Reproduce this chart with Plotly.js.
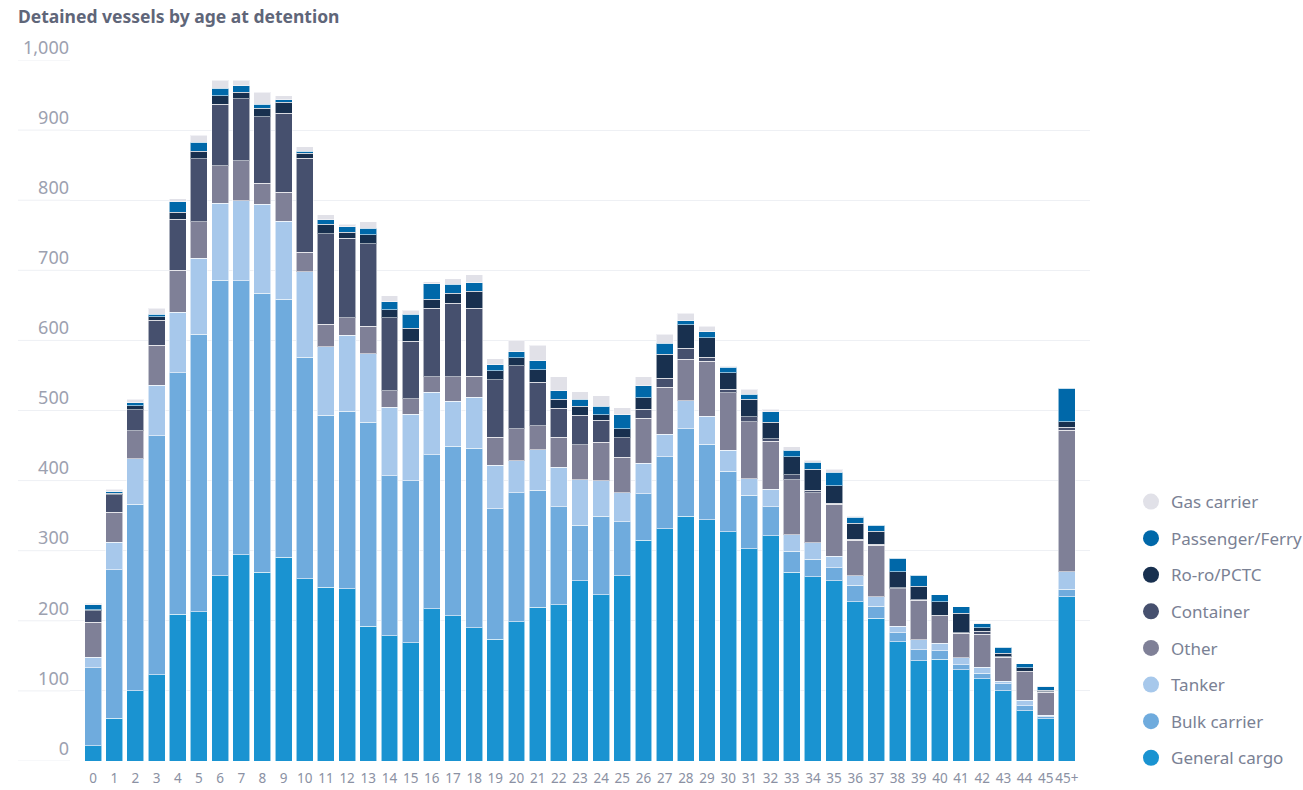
<!DOCTYPE html>
<html>
<head>
<meta charset="utf-8">
<script src="https://cdn.plot.ly/plotly-3.0.1.min.js"></script>
<style>html,body{margin:0;padding:0;background:#fff;}#chart{width:1303px;height:790px;}</style>
</head>
<body>
<div id="chart"></div>
<script>
const ages = ['0','1','2','3','4','5','6','7','8','9','10','11','12','13','14','15','16','17','18','19','20','21','22','23','24','25','26','27','28','29','30','31','32','33','34','35','36','37','38','39','40','41','42','43','44','45','45+'];

const generalCargo = [22,61,100,123,209,213,264,294,269,291, 260,248,246,192,179,169,217,207,190,174, 199,219,223,257,237,264,315,331,349,344, 327,303,321,269,263,257,227,204,170,143, 145,130,117,100,72,60, 234];
const bulkCarrier  = [111,212,266,341,345,396,422,391,398,368, 316,245,253,291,228,231,220,242,256,186, 184,167,140,79,112,77,66,103,125,108, 86,76,42,30,25,19,24,17,13,16, 12,7,8,10,7,3, 11];
const tanker       = [15,39,65,72,86,108,110,114,127,111, 122,98,108,98,98,95,89,64,73,62, 45,58,56,65,51,42,44,32,40,40, 30,24,25,24,23,16,13,13,9,14, 11,10,9,4,8,2, 25];
const other        = [50,43,40,57,60,52,53,57,30,41, 28,32,25,39,23,22,22,35,30,40, 46,34,43,50,55,50,64,67,59,78, 82,81,68,78,72,74,51,74,54,56, 39,35,47,34,40,33, 202];
const container    = [16,25,30,36,73,90,88,89,95,113, 134,129,114,118,104,82,98,105,97,82, 90,62,41,42,31,28,13,13,16,6, 5,7,4,7,3,2,1,1,1,1, 1,1,4,1,1,1, 4];
const roro         = [2,2,6,5,10,11,12,9,12,16, 7,14,8,13,12,18,13,14,24,13, 11,18,13,13,8,13,16,34,33,28, 24,25,23,26,30,25,23,19,23,19, 19,28,5,5,5,2, 8];
const passenger    = [7,2,4,3,15,13,11,9,6,3, 3,6,8,9,11,20,22,13,12,8, 9,13,12,10,12,20,17,16,6,8, 8,7,15,9,10,19,9,8,19,16, 10,9,6,8,6,5, 48];
const gasCarrier   = [2,4,5,9,4,10,11,8,17,6, 6,7,4,9,9,6,3,8,12,9, 16,22,20,11,15,10,13,13,11,8, 1,7,4,5,3,4,1,1,0,0, 0,0,1,0,0,1, 0];

const seriesNames  = ['General cargo','Bulk carrier','Tanker','Other','Container','Ro-ro/PCTC','Passenger/Ferry','Gas carrier'];
const seriesValues = [generalCargo, bulkCarrier, tanker, other, container, roro, passenger, gasCarrier];
const seriesColors = ['#1a93d1','#6fabdd','#a7c8eb','#7f8097','#46506e','#18304f','#0068a9','#e1e1e8'];

const yTicks = [0,100,200,300,400,500,600,700,800,900,1000];

const FONT = 'Noto Sans, Open Sans, sans-serif';
const traces = [];
seriesNames.forEach((name, i) => {
  traces.push({
    type: 'bar', name: name, x: ages, y: seriesValues[i],
    marker: {color: seriesColors[i], line: {color: 'rgba(255,255,255,0.55)', width: 1}},
    showlegend: false, hoverinfo: 'x+y+name'
  });
});
// legend entries (circles), top to bottom
for (let i = seriesNames.length - 1; i >= 0; i--) {
  traces.push({
    type: 'scatter', mode: 'markers', name: seriesNames[i], x: [null], y: [null],
    marker: {color: seriesColors[i], size: 16, symbol: 'circle'},
    legendgroup: 'g' + i, showlegend: true, hoverinfo: 'skip'
  });
}

const gridExt = yTicks.map(v => ({
  type: 'line', xref: 'paper', yref: 'y', x0: -0.051, x1: 0, y0: v, y1: v,
  line: {color: '#eef0f4', width: 1}, layer: 'below'
}));

const layout = {
  width: 1303, height: 790,
  margin: {l: 70, r: 213, t: 60, b: 29},
  paper_bgcolor: '#fff', plot_bgcolor: '#fff',
  barmode: 'stack', bargap: 0.2,
  font: {family: FONT, color: '#8b91a3'},
  title: {
    text: '<b>Detained vessels by age at detention</b>',
    font: {family: FONT, size: 17.5, color: '#5f6679'},
    x: 18/1303, xanchor: 'left', xref: 'container',
    y: 1 - 17/790, yanchor: 'middle', yref: 'container'
  },
  xaxis: {
    type: 'category', range: [-1.09, 47.09],
    showgrid: false, showline: false, zeroline: false, ticks: '',
    tickangle: 0,
    tickfont: {family: FONT, size: 13.5, color: '#8b91a3'},
    ticklabelstandoff: 7, fixedrange: true
  },
  yaxis: {
    range: [0, 1000], tickvals: yTicks, tickformat: ',d',
    ticklabelposition: 'outside top', ticks: '',
    showgrid: true, gridcolor: '#eef0f4', gridwidth: 1,
    zeroline: false, showline: false,
    tickfont: {family: FONT, size: 18, color: '#9ca1b0'},
    fixedrange: true
  },
  shapes: gridExt,
  legend: {
    xref: 'container', yref: 'container',
    x: 1131/1303, xanchor: 'left', y: 1 - 484/790, yanchor: 'top',
    traceorder: 'grouped', tracegroupgap: 11.5,
    font: {family: FONT, size: 17, color: '#7a8194'},
    bgcolor: 'rgba(0,0,0,0)'
  },
  showlegend: true
};

Plotly.newPlot('chart', traces, layout, {displayModeBar: false, staticPlot: true});
</script>
</body>
</html>
